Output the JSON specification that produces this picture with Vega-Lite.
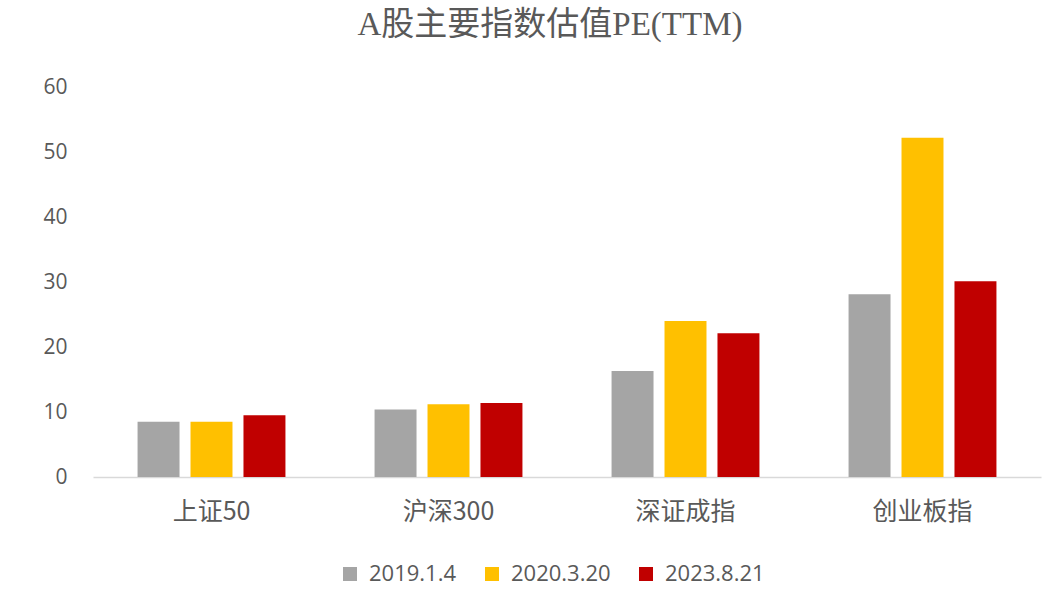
{
  "$schema": "https://vega.github.io/schema/vega-lite/v6.json",
  "width": 948,
  "height": 390,
  "autosize": {"type": "none"},
  "padding": {"left": 93, "top": 87, "right": 9, "bottom": 135},
  "background": "white",
  "title": {
    "text": "A股主要指数估值PE(TTM)",
    "font": "Liberation Serif, Noto Sans CJK SC",
    "fontSize": 33,
    "fontWeight": "normal",
    "color": "#595959",
    "anchor": "middle",
    "dx": -17,
    "offset": 34
  },
  "data": {
    "values": [
      {"index": "上证50", "date": "2019.1.4", "pe": 8.5},
      {"index": "上证50", "date": "2020.3.20", "pe": 8.5},
      {"index": "上证50", "date": "2023.8.21", "pe": 9.5},
      {"index": "沪深300", "date": "2019.1.4", "pe": 10.4},
      {"index": "沪深300", "date": "2020.3.20", "pe": 11.2},
      {"index": "沪深300", "date": "2023.8.21", "pe": 11.4},
      {"index": "深证成指", "date": "2019.1.4", "pe": 16.3},
      {"index": "深证成指", "date": "2020.3.20", "pe": 24.0},
      {"index": "深证成指", "date": "2023.8.21", "pe": 22.1},
      {"index": "创业板指", "date": "2019.1.4", "pe": 28.1},
      {"index": "创业板指", "date": "2020.3.20", "pe": 52.2},
      {"index": "创业板指", "date": "2023.8.21", "pe": 30.1}
    ]
  },
  "mark": {"type": "bar"},
  "encoding": {
    "x": {
      "field": "index",
      "type": "nominal",
      "sort": ["上证50", "沪深300", "深证成指", "创业板指"],
      "scale": {"paddingInner": 0.376, "paddingOuter": 0.188},
      "axis": {
        "title": null,
        "labelAngle": 0,
        "ticks": false,
        "labelPadding": 22,
        "labelFont": "Noto Sans CJK SC",
        "labelFontSize": 25,
        "labelColor": "#595959",
        "domainColor": "#d9d9d9",
        "domainWidth": 1.5
      }
    },
    "xOffset": {
      "field": "date",
      "type": "nominal",
      "sort": ["2019.1.4", "2020.3.20", "2023.8.21"],
      "scale": {"paddingInner": 0.2075, "paddingOuter": 0}
    },
    "y": {
      "field": "pe",
      "type": "quantitative",
      "scale": {"domain": [0, 60]},
      "axis": {
        "title": null,
        "values": [0, 10, 20, 30, 40, 50, 60],
        "grid": false,
        "domain": false,
        "ticks": false,
        "labelPadding": 26,
        "labelFont": "Open Sans",
        "labelFontSize": 21,
        "labelColor": "#595959"
      }
    },
    "color": {
      "field": "date",
      "type": "nominal",
      "sort": ["2019.1.4", "2020.3.20", "2023.8.21"],
      "scale": {"range": ["#a5a5a5", "#ffc000", "#c00000"]},
      "legend": {
        "title": null,
        "orient": "none",
        "legendX": 246,
        "legendY": 476,
        "direction": "horizontal",
        "symbolType": "square",
        "symbolSize": 196,
        "symbolStrokeWidth": 0,
        "labelFont": "Open Sans",
        "labelFontSize": 22,
        "labelColor": "#595959",
        "labelOffset": 8,
        "columnPadding": 24
      }
    }
  },
  "config": {"view": {"stroke": null}}
}
